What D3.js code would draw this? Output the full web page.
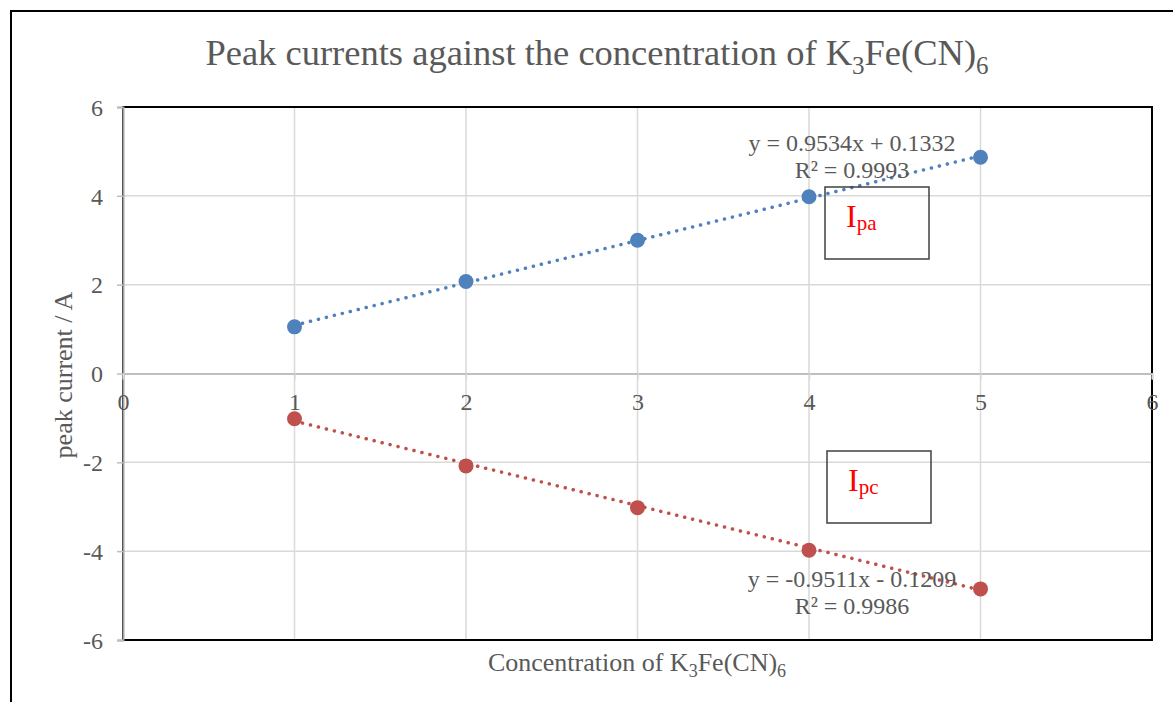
<!DOCTYPE html>
<html>
<head>
<meta charset="utf-8">
<script src="https://cdn.jsdelivr.net/npm/d3@7"></script>
<style>
  body { margin: 0; background: #fff; }
  text { font-family: "Liberation Serif", "Times New Roman", serif; }
</style>
</head>
<body>
<div id="chart"></div>
<script>
// data
const concentration = [1, 2, 3, 4, 5];
const anodicPeak = [1.05, 2.07, 3.0, 3.98, 4.87];
const cathodicPeak = [-1.02, -2.08, -3.02, -3.98, -4.85];
const xTicks = [0, 1, 2, 3, 4, 5, 6];
const yTicks = [-6, -4, -2, 0, 2, 4, 6];
// trendline coefficients shown on the chart
const anodicFit = { slope: 0.9534, intercept: 0.1332, r2: "0.9993" };
const cathodicFit = { slope: -0.9511, intercept: -0.1209, r2: "0.9986" };

const W = 1173, H = 702;
const margin = { top: 107, right: 21, bottom: 62, left: 123 };

const svg = d3.select('#chart').append('svg')
    .attr('width', W)
    .attr('height', H);

// outer chart frame (runs off the right/bottom edge)
svg.append('rect')
    .attr('x', 11).attr('y', 11)
    .attr('width', W + 20).attr('height', H + 20)
    .attr('fill', 'none').attr('stroke', '#000').attr('stroke-width', 2);

const x = d3.scaleLinear().domain([0, 6]).range([margin.left, W - margin.right]);
const y = d3.scaleLinear().domain([-6, 6]).range([H - margin.bottom, margin.top]);

const tickFmt = d => String(d); // plain hyphen minus, like the original

// gridlines
svg.append('g').selectAll('line')
    .data(xTicks.filter(d => d > 0 && d < 6))
    .enter().append('line')
    .attr('x1', d => x(d)).attr('x2', d => x(d))
    .attr('y1', y(6)).attr('y2', y(-6))
    .attr('stroke', '#d9d9d9').attr('stroke-width', 1.5);

svg.append('g').selectAll('line')
    .data(yTicks.filter(d => d !== 0 && Math.abs(d) !== 6))
    .enter().append('line')
    .attr('x1', x(0)).attr('x2', x(6))
    .attr('y1', d => y(d)).attr('y2', d => y(d))
    .attr('stroke', '#d9d9d9').attr('stroke-width', 1.5);

// plot frame
svg.append('rect')
    .attr('x', x(0)).attr('y', y(6))
    .attr('width', x(6) - x(0)).attr('height', y(-6) - y(6))
    .attr('fill', 'none').attr('stroke', '#000').attr('stroke-width', 2);

// y axis
const yAxis = svg.append('g')
    .attr('transform', `translate(${x(0)},0)`)
    .call(d3.axisLeft(y).tickValues(yTicks).tickFormat(tickFmt).tickSize(6).tickPadding(14));
yAxis.attr('font-size', null).attr('font-family', null);
yAxis.select('.domain').attr('stroke', '#a6a6a6').attr('stroke-width', 2);
yAxis.selectAll('.tick line').attr('stroke', '#bfbfbf').attr('stroke-width', 1.5);
yAxis.selectAll('.tick text')
    .attr('fill', '#595959').style('font-size', '24px').attr('dy', '0.34em');

// x axis through zero
const xAxis = svg.append('g')
    .attr('transform', `translate(0,${y(0)})`)
    .call(d3.axisBottom(x).tickValues(xTicks).tickFormat(tickFmt).tickSize(6).tickPadding(13));
xAxis.attr('font-size', null).attr('font-family', null);
xAxis.select('.domain').attr('stroke', '#bfbfbf').attr('stroke-width', 2);
xAxis.selectAll('.tick line').attr('stroke', '#d9d9d9').attr('stroke-width', 1.5);
xAxis.selectAll('.tick text')
    .attr('fill', '#595959').style('font-size', '24px');

// trendlines
function drawTrend(fit, color) {
    const ends = [d3.min(concentration), d3.max(concentration)];
    svg.append('line')
        .attr('x1', x(ends[0])).attr('y1', y(fit.slope * ends[0] + fit.intercept))
        .attr('x2', x(ends[1])).attr('y2', y(fit.slope * ends[1] + fit.intercept))
        .attr('stroke', color).attr('stroke-width', 3.5)
        .attr('stroke-linecap', 'round')
        .attr('stroke-dasharray', '0.1 8.1');
}
drawTrend(anodicFit, '#4f81bd');
drawTrend(cathodicFit, '#c0504d');

// markers
function drawPoints(vals, color) {
    svg.append('g').selectAll('circle')
        .data(concentration.map((c, i) => [c, vals[i]]))
        .enter().append('circle')
        .attr('cx', d => x(d[0])).attr('cy', d => y(d[1]))
        .attr('r', 7.5)
        .attr('fill', color);
}
drawPoints(anodicPeak, '#4f81bd');
drawPoints(cathodicPeak, '#c0504d');

// equation labels
function fmt(v) { return v.toFixed(4); }
function eqLabel(fit, cx, cy) {
    const sign = fit.intercept < 0 ? ' - ' : ' + ';
    const g = svg.append('g').attr('fill', '#595959').style('font-size', '24px')
        .attr('text-anchor', 'middle');
    g.append('text').attr('x', cx).attr('y', cy)
        .text(`y = ${fmt(fit.slope)}x${sign}${fmt(Math.abs(fit.intercept))}`);
    g.append('text').attr('x', cx).attr('y', cy + 27)
        .text(`R² = ${fit.r2}`);
}
eqLabel(anodicFit, 852, 151);
eqLabel(cathodicFit, 852, 587);

// Ipa / Ipc boxes
function labelBox(bx, by, sub) {
    svg.append('rect')
        .attr('x', bx).attr('y', by).attr('width', 104).attr('height', 72)
        .attr('fill', 'none').attr('stroke', '#404040').attr('stroke-width', 1.5);
    const t = svg.append('text').attr('x', bx + 21).attr('y', by + 40)
        .attr('fill', '#ff0000').style('font-size', '32px');
    t.append('tspan').text('I');
    t.append('tspan').attr('dy', 3).style('font-size', '21px').text(sub);
}
labelBox(825, 187, 'pa');
labelBox(827, 451, 'pc');

// title
const title = svg.append('text')
    .attr('x', 597).attr('y', 65)
    .attr('text-anchor', 'middle')
    .attr('fill', '#595959').style('font-size', '36.5px');
title.append('tspan').text('Peak currents against the concentration of K');
title.append('tspan').attr('dy', 9).style('font-size', '25px').text('3');
title.append('tspan').attr('dy', -9).text('Fe(CN)');
title.append('tspan').attr('dy', 9).style('font-size', '25px').text('6');

// axis titles
const xt = svg.append('text')
    .attr('x', 637).attr('y', 671)
    .attr('text-anchor', 'middle')
    .attr('fill', '#595959').style('font-size', '26px');
xt.append('tspan').text('Concentration of K');
xt.append('tspan').attr('dy', 6).style('font-size', '18px').text('3');
xt.append('tspan').attr('dy', -6).text('Fe(CN)');
xt.append('tspan').attr('dy', 6).style('font-size', '18px').text('6');

svg.append('text')
    .attr('transform', `translate(72,375) rotate(-90)`)
    .attr('text-anchor', 'middle')
    .attr('fill', '#595959').style('font-size', '26px')
    .text('peak current / A');
</script>
</body>
</html>
